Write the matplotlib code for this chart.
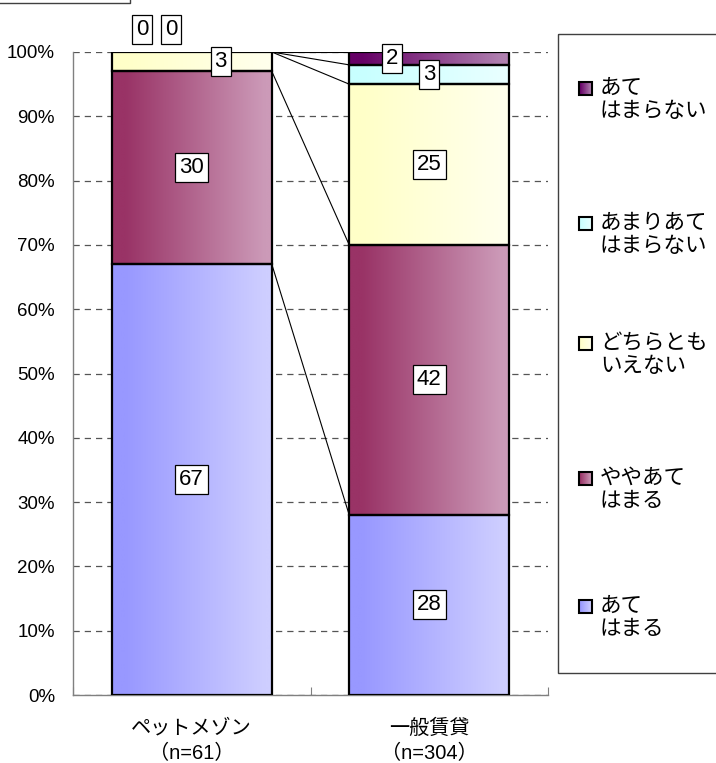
import numpy as np
import matplotlib.pyplot as plt
from matplotlib.patches import Rectangle

plt.rcParams['font.family'] = ['Liberation Sans', 'Noto Sans CJK JP']

# data (bottom -> top of each stack)
categories = ['ペットメゾン\n（n=61）', '一般賃貸\n（n=304）']
series = ['あて\nはまる', 'ややあて\nはまる', 'どちらとも\nいえない',
          'あまりあて\nはまらない', 'あて\nはまらない']
pet_values = [67, 30, 3, 0, 0]
general_values = [28, 42, 25, 3, 2]
values = [pet_values, general_values]

# gradient colours per series: (left, right)
grad_colors = [
    ('#9898ff', '#ceceff'),
    ('#993366', '#cc9ab8'),
    ('#ffffc8', '#ffffec'),
    ('#c8ffff', '#e8ffff'),
    ('#660066', '#b080b0'),
]

# label nudges (x, y) in data units where the default spot is crowded
label_shift = {(0, 2): (0.122, 0), (0, 3): (-0.21, 3.5), (0, 4): (-0.088, 3.5),
               (1, 4): (-0.156, 0)}

W, H = 716, 763
fig = plt.figure(figsize=(W / 100, H / 100), dpi=100)
ax = fig.add_axes([73 / W, 1 - 695 / H, 475 / W, 643 / H])

bar_w = 0.674


def hgrad(c0, c1, n=256):
    a = np.array(plt.matplotlib.colors.to_rgb(c0))
    b = np.array(plt.matplotlib.colors.to_rgb(c1))
    t = np.clip((np.linspace(0, 1, n) - 0.08) / 0.87, 0, 1)[:, None]
    return (a + (b - a) * t)[None, :, :]


cums = []
for i, vals in enumerate(values):
    bottom = 0
    cum = []
    for k, v in enumerate(vals):
        x0, x1 = i - bar_w / 2, i + bar_w / 2
        if v > 0:
            ax.imshow(hgrad(*grad_colors[k]), extent=(x0, x1, bottom, bottom + v),
                      aspect='auto', interpolation='bilinear', zorder=2)
            ax.add_patch(Rectangle((x0, bottom), bar_w, v, fill=False,
                                   edgecolor='black', lw=1.6, zorder=3))
        dx, dy = label_shift.get((i, k), (0, 0))
        ax.text(i + dx, bottom + v / 2 + dy, str(v), ha='center', va='center',
                fontsize=16, zorder=6, clip_on=False,
                bbox=dict(boxstyle='square,pad=0.18', fc='white', ec='black', lw=0.9))
        bottom += v
        cum.append(bottom)
    cums.append(cum)

# series lines between the stacks
for a, b in zip(cums[0], cums[1]):
    ax.plot([bar_w / 2, 1 - bar_w / 2], [a, b], color='black', lw=0.8, zorder=1.5)

ax.set_xlim(-0.5, 1.5)
ax.set_ylim(0, 100)
ax.set_yticks(range(0, 101, 10))
ax.set_yticklabels([f'{v}%' for v in range(0, 101, 10)], fontsize=13.5)
ax.tick_params(axis='y', length=0, pad=13)
ax.set_xticks([-0.5, 0.5, 1.5])
ax.set_xticklabels([])
ax.tick_params(axis='x', which='major', direction='in', length=6, color='#808080')
ax.set_xticks([0, 1], minor=True)
ax.set_xticklabels(categories, minor=True, fontsize=14.5, linespacing=1.4)
ax.tick_params(axis='x', which='minor', length=0, pad=17)

ax.yaxis.grid(True, linestyle=(0, (5, 4)), color='#555555', lw=0.9)
ax.set_axisbelow(True)
for s in ['top', 'right']:
    ax.spines[s].set_visible(False)
for s in ['left', 'bottom']:
    ax.spines[s].set_color('#808080')
    ax.spines[s].set_linewidth(1.0)

# overlay in pixel coordinates for the legend and frame
ov = fig.add_axes([0, 0, 1, 1], zorder=5)
ov.set_xlim(0, W)
ov.set_ylim(H, 0)
ov.axis('off')
ov.patch.set_visible(False)

ov.add_patch(Rectangle((558, 34), 200, 639, fill=False, edgecolor='#404040',
                       lw=1.0, clip_on=False))
ov.plot([0, 130, 130], [3, 3, 0], color='#404040', lw=1.0)

legend_y = [88, 223, 343, 478, 606]
for yc, k in zip(legend_y, range(4, -1, -1)):
    ov.imshow(hgrad(*grad_colors[k]), extent=(579, 592, yc + 6.5, yc - 6.5),
              aspect='auto', interpolation='bilinear', zorder=2)
    ov.add_patch(Rectangle((579, yc - 6.5), 13, 13, fill=False,
                           edgecolor='black', lw=1.5, zorder=3))
    ov.text(600, yc + 12, series[k], ha='left', va='center', fontsize=15.5,
            linespacing=1.1)

ov.set_xlim(0, W)
ov.set_ylim(H, 0)

fig.savefig('out.png', dpi=100)
